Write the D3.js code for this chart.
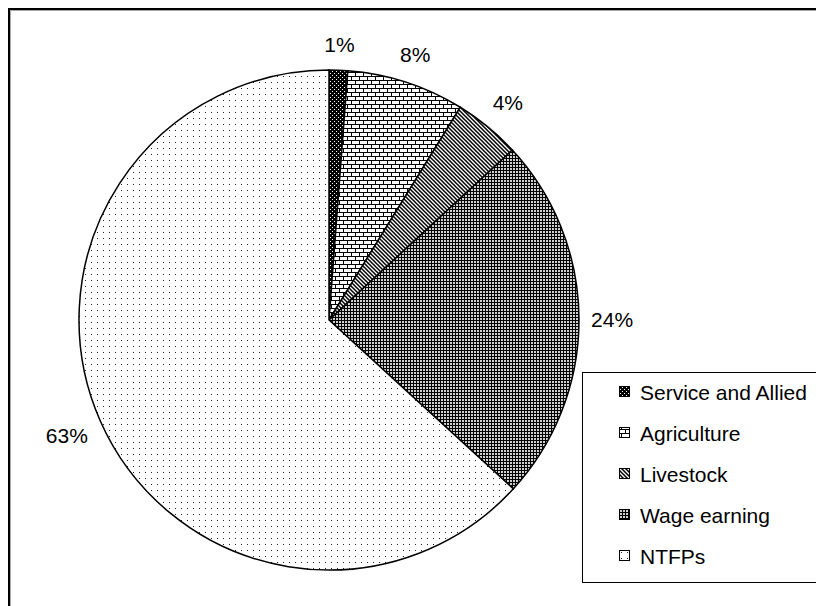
<!DOCTYPE html>
<html>
<head>
<meta charset="utf-8">
<script src="https://cdn.jsdelivr.net/npm/d3@7"></script>
<style>
  body { margin: 0; background: #fff; }
  svg { display: block; font-family: "Liberation Sans", Arial, sans-serif; }
</style>
</head>
<body>
<div id="container"></div>
<script>
// income sources (share of household income, %)
const categories = ["Service and Allied", "Agriculture", "Livestock", "Wage earning", "NTFPs"]
const shares = [1.2, 7.6, 4.3, 23.7, 63.2]
const pctLabels = ["1%", "8%", "4%", "24%", "63%"]

const width = 816
const height = 606
const cx = 329, cy = 320, radius = 250

const svg = d3.select("#container")
  .append("svg")
  .attr("width", width)
  .attr("height", height)

// fill patterns, one per slice
const defs = svg.append("defs")
const patternIds = ["p-service", "p-agri", "p-live", "p-wage", "p-ntfp"]

// black with white dots
let p = defs.append("pattern").attr("id", "p-service").attr("patternUnits", "userSpaceOnUse")
  .attr("width", 4).attr("height", 4)
p.append("rect").attr("width", 4).attr("height", 4).attr("fill", "#000")
p.append("rect").attr("x", 1).attr("y", 1).attr("width", 1).attr("height", 1).attr("fill", "#fff")
p.append("rect").attr("x", 3).attr("y", 3).attr("width", 1).attr("height", 1).attr("fill", "#fff")

// brick
p = defs.append("pattern").attr("id", "p-agri").attr("patternUnits", "userSpaceOnUse")
  .attr("width", 8).attr("height", 8)
p.append("rect").attr("width", 8).attr("height", 8).attr("fill", "#fff")
p.append("rect").attr("x", 0).attr("y", 0).attr("width", 8).attr("height", 1).attr("fill", "#000")
p.append("rect").attr("x", 0).attr("y", 4).attr("width", 8).attr("height", 1).attr("fill", "#000")
p.append("rect").attr("x", 2).attr("y", 0).attr("width", 1).attr("height", 4).attr("fill", "#000")
p.append("rect").attr("x", 6).attr("y", 4).attr("width", 1).attr("height", 4).attr("fill", "#000")

// dense downward diagonal
p = defs.append("pattern").attr("id", "p-live").attr("patternUnits", "userSpaceOnUse")
  .attr("width", 4).attr("height", 4)
p.append("rect").attr("width", 4).attr("height", 4).attr("fill", "#fff")
p.append("path").attr("d", "M-1,-1 L5,5 M-1,3 L1,5 M3,-1 L5,1")
  .attr("stroke", "#000").attr("stroke-width", 1.5)

// dark grid
p = defs.append("pattern").attr("id", "p-wage").attr("patternUnits", "userSpaceOnUse")
  .attr("width", 3).attr("height", 3)
p.append("rect").attr("width", 3).attr("height", 3).attr("fill", "#000")
p.append("rect").attr("x", 1).attr("y", 1).attr("width", 2).attr("height", 2).attr("fill", "#d0d0d0")

// sparse dots
p = defs.append("pattern").attr("id", "p-ntfp").attr("patternUnits", "userSpaceOnUse")
  .attr("width", 6).attr("height", 6)
p.append("rect").attr("width", 6).attr("height", 6).attr("fill", "#fff")
p.append("rect").attr("x", 2).attr("y", 2).attr("width", 1).attr("height", 1).attr("fill", "#222")

// chart frame (only left/top edges visible in the image)
svg.append("rect")
  .attr("x", 9).attr("y", 9)
  .attr("width", 900).attr("height", 700)
  .attr("fill", "none").attr("stroke", "#000").attr("stroke-width", 2)
svg.append("rect")
  .attr("x", 10.5).attr("y", 10.5)
  .attr("width", 900).attr("height", 700)
  .attr("fill", "none").attr("stroke", "#aaa").attr("stroke-width", 1)

const pie = d3.pie().sort(null).value(d => d.value)
const arc = d3.arc().innerRadius(0).outerRadius(radius)

const data = categories.map((c, i) => ({ name: c, value: shares[i], label: pctLabels[i], fill: patternIds[i] }))
const arcs = pie(data)

const g = svg.append("g").attr("transform", `translate(${cx}, ${cy})`)

g.selectAll("path")
  .data(arcs)
  .join("path")
  .attr("d", arc)
  .attr("fill", d => `url(#${d.data.fill})`)
  .attr("stroke", "#000")
  .attr("stroke-width", 1.5)

// percent labels just outside the rim
const labels = g.selectAll("text.pct")
  .data(arcs)
  .join("text")
  .attr("class", "pct")
  .attr("font-size", 21)
  .attr("text-anchor", "middle")
  .attr("dominant-baseline", "central")
  .text(d => d.data.label)

labels.each(function (d) {
  const a = (d.startAngle + d.endAngle) / 2
  const w = this.getComputedTextLength()
  const s = Math.sin(a), c = Math.cos(a)
  const dist = radius + 12 + Math.abs(s) * w / 2 + Math.abs(c) * 13
  d3.select(this).attr("x", s * dist).attr("y", -c * dist)
})

// legend
const legend = svg.append("g").attr("transform", "translate(582, 372)")
legend.append("rect")
  .attr("x", 0.5).attr("y", 0.5)
  .attr("width", 300).attr("height", 210)
  .attr("fill", "#fff").attr("stroke", "#000").attr("stroke-width", 1)

const item = legend.selectAll("g.item")
  .data(data)
  .join("g")
  .attr("class", "item")
  .attr("transform", (d, i) => `translate(37, ${20 + i * 41})`)

item.append("rect")
  .attr("x", 0.5).attr("y", -5.5)
  .attr("width", 10).attr("height", 10)
  .attr("fill", d => `url(#${d.fill})`)
  .attr("stroke", "#000").attr("stroke-width", 1)

item.append("text")
  .attr("x", 21)
  .attr("y", 0)
  .attr("dominant-baseline", "central")
  .attr("font-size", 21)
  .text(d => d.name)
</script>
</body>
</html>
